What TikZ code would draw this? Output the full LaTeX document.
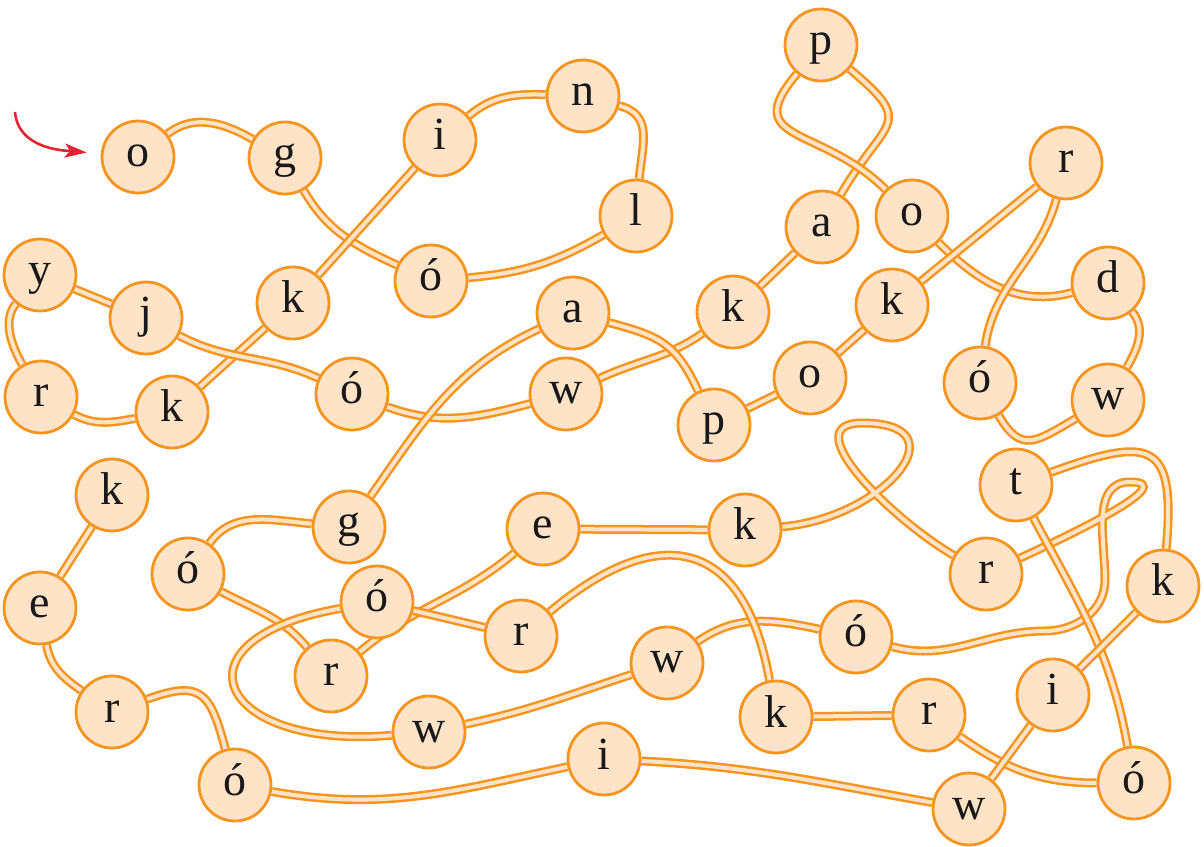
\documentclass[tikz,border=0pt]{standalone}
\usepackage{fontspec}
\setmainfont{Liberation Serif}
\usetikzlibrary{arrows.meta,backgrounds}
\definecolor{ropeorange}{HTML}{F5951F}
\definecolor{ropefill}{HTML}{FEE3C7}
\definecolor{startred}{HTML}{E52330}

\begin{document}
\begin{tikzpicture}[x=0.5pt, y=0.5pt,
    main/.style = {draw=ropeorange, fill=ropefill, line width=1.4pt, circle, minimum size=36pt, inner sep=0pt,
        text height=12pt, text depth=2pt, font=\fontsize{23}{25}\selectfont, text=black!90},
    rope/.style = {draw=ropeorange, line width=1.25pt, double=ropefill, double distance=2pt}]
    \useasboundingbox (0,0) rectangle (1204,846);

    \node[main] (1) at (138,689) {o};
    \node[main] (2) at (285,688) {g};
    \node[main] (3) at (431,565) {ó};
    \node[main] (4) at (636,630) {l};
    \node[main] (5) at (583,750) {n};
    \node[main] (6) at (440,706) {i};
    \node[main] (7) at (293,543) {k};
    \node[main] (8) at (172,434) {k};
    \node[main] (9) at (41,449) {r};
    \node[main] (10) at (40,571) {y};
    \node[main] (11) at (146,528) {j};
    \node[main] (12) at (352,452) {ó};
    \node[main] (13) at (566,452) {w};
    \node[main] (14) at (733,534) {k};
    \node[main] (15) at (822,619) {a};
    \node[main] (16) at (821,801) {p};
    \node[main] (17) at (912,630) {o};
    \node[main] (18) at (1108,563) {d};
    \node[main] (19) at (1108,446) {w};
    \node[main] (20) at (980,463) {ó};
    \node[main] (21) at (1066,683) {r};
    \node[main] (22) at (892,541) {k};
    \node[main] (23) at (810,468) {o};
    \node[main] (24) at (714,421) {p};
    \node[main] (25) at (573,533) {a};
    \node[main] (26) at (349,319) {g};
    \node[main] (27) at (188,272) {ó};
    \node[main] (28) at (331,170) {r};
    \node[main] (29) at (543,317) {e};
    \node[main] (30) at (745,316) {k};
    \node[main] (31) at (986,272) {r};
    \node[main] (32) at (856,209) {ó};
    \node[main] (33) at (667,183) {w};
    \node[main] (34) at (429,114) {w};
    \node[main] (35) at (377,244) {ó};
    \node[main] (36) at (521,210) {r};
    \node[main] (37) at (776,129) {k};
    \node[main] (38) at (929,131) {r};
    \node[main] (39) at (1134,63) {ó};
    \node[main] (40) at (1016,361) {t};
    \node[main] (41) at (1163,260) {k};
    \node[main] (42) at (1053,151) {i};
    \node[main] (43) at (969,37) {w};
    \node[main] (44) at (604,87) {i};
    \node[main] (45) at (235,61) {ó};
    \node[main] (46) at (112,134) {r};
    \node[main] (47) at (40,238) {e};
    \node[main] (48) at (112,351) {k};

    \begin{pgfonlayer}{background}
    \draw[rope] (1) to[out=38,in=150] (2);
    \draw[rope] (2) to[out=-60,in=155] (3);
    \draw[rope] (3) to[out=5,in=210] (4);
    \draw[rope] (4) to[out=85,in=-15,looseness=1.2] (5);
    \draw[rope] (5) to[out=178,in=40] (6);
    \draw[rope] (6) -- (7);
    \draw[rope] (7) -- (8);
    \draw[rope] (8) to[out=190,in=-28] (9);
    \draw[rope] (9) to[out=120,in=-130,looseness=0.9] (10);
    \draw[rope] (10) -- (11);
    \draw[rope] (11) to[out=-28,in=155] (12);
    \draw[rope] (12) to[out=-20,in=195] (13);
    \draw[rope] (13) to[out=25,in=215] (14);
    \draw[rope] (14) -- (15);
    \draw[rope] (15) to[out=60,in=-40,looseness=1.8] (16);
    \draw[rope] (16) to[out=-130,in=135,looseness=1.6] (17);
    \draw[rope] (17) to[out=-45,in=195] (18);
    \draw[rope] (18) to[out=-50,in=60] (19);
    \draw[rope] (19) to[out=-150,in=-60,looseness=1.5] (20);
    \draw[rope] (20) to[out=82,in=-105] (21);
    \draw[rope] (21) -- (22);
    \draw[rope] (22) -- (23);
    \draw[rope] (23) -- (24);
    \draw[rope] (24) to[out=115,in=-15,looseness=1.2] (25);
    \draw[rope] (25) to[out=205,in=55] (26);
    \draw[rope] (26) to[out=175,in=55] (27);
    \draw[rope] (27) to[out=-28,in=130] (28);
    \draw[rope] (28) to[out=40,in=-140] (29);
    \draw[rope] (29) -- (30);
    \draw[rope] (30) to[out=5,in=0,looseness=2] (862,423) to[out=180,in=150,looseness=1.1] (31);
    \draw[rope] (31) to[out=25,in=0] (1130,364) to[out=180,in=90] (1105,266)
        to[out=-90,in=0] (1045,215) to[out=180,in=-15] (32);
    \draw[rope] (32) to[out=168,in=35] (33);
    \draw[rope] (33) to[out=198,in=12] (34);
    \draw[rope] (34) to[out=185,in=190,looseness=3.3] (35);
    \draw[rope] (35) -- (36);
    \draw[rope] (36) to[out=40,in=100,looseness=1.6] (37);
    \draw[rope] (37) -- (38);
    \draw[rope] (38) to[out=-35,in=180] (39);
    \draw[rope] (39) to[out=100,in=-62] (40);
    \draw[rope] (40) to[out=20,in=85,looseness=2] (41);
    \draw[rope] (41) -- (42);
    \draw[rope] (42) -- (43);
    \draw[rope] (43) to[out=170,in=-3] (44);
    \draw[rope] (44) to[out=192,in=-10] (45);
    \draw[rope] (45) to[out=105,in=20,looseness=1.6] (46);
    \draw[rope] (46) to[out=145,in=-80] (47);
    \draw[rope] (47) -- (48);
    \end{pgfonlayer}

    % start marker
    \coordinate (start) at (15,734);
    \draw[startred, line width=1.3pt, -{Stealth[length=11pt,width=7pt,inset=2.5pt]}, shorten >=7pt]
        (start) to[out=-85,in=175] (1);
\end{tikzpicture}
\end{document}
